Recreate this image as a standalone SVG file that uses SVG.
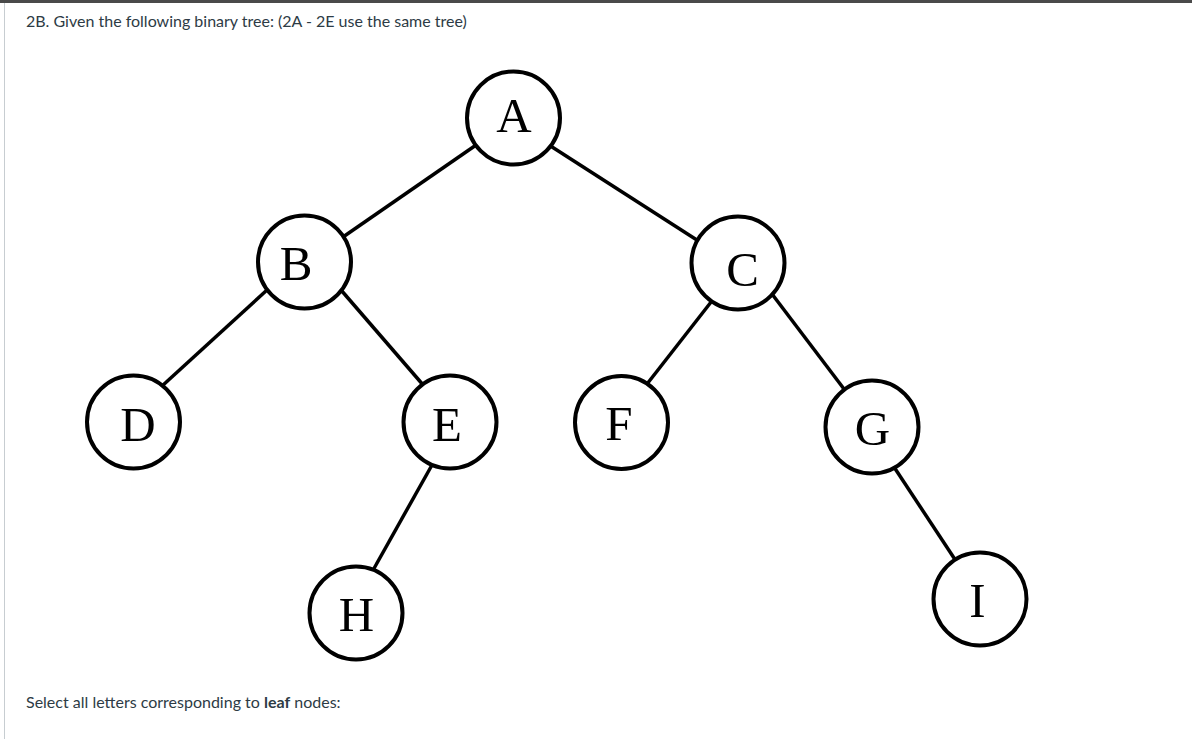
<svg xmlns="http://www.w3.org/2000/svg" width="1192" height="739" viewBox="0 0 1192 739">
  <style>
    .edge { stroke: #000; stroke-width: 3.5; fill: none; }
    .node circle { fill: #fff; stroke: #000; stroke-width: 4; }
    .node text { font-family: "Liberation Serif", "Times New Roman", serif; font-size: 49px; fill: #000; text-anchor: middle; }
    .ui { font-family: Lato, "Liberation Sans", sans-serif; font-size: 16px; fill: #2d3b45; }
  </style>
  <rect x="0" y="0" width="1192" height="739" fill="#fff"/>
  <rect x="0" y="0" width="1192" height="3" fill="#4a4a4a"/>
  <rect x="4" y="3" width="1" height="736" fill="#c7cdd1"/>
  <text class="ui" x="26" y="27">2B. Given the following binary tree: (2A - 2E use the same tree)</text>
  <text class="ui" x="26" y="708">Select all letters corresponding to <tspan font-weight="bold">leaf</tspan> nodes:</text>

  <g id="connectors">
    <line class="edge" x1="479" y1="143" x2="343" y2="237"/>
    <line class="edge" x1="549" y1="145" x2="700" y2="242"/>
    <line class="edge" x1="267" y1="290" x2="162" y2="386"/>
    <line class="edge" x1="341" y1="290" x2="424" y2="386"/>
    <line class="edge" x1="715" y1="297" x2="647" y2="384"/>
    <line class="edge" x1="772" y1="294" x2="844" y2="389"/>
    <line class="edge" x1="432" y1="465" x2="372" y2="572"/>
    <line class="edge" x1="894" y1="467" x2="956" y2="561"/>
  </g>

  <g id="node-A" class="node"><circle cx="513.5" cy="118" r="46.5"/><text x="514" y="131.5">A</text></g>
  <g id="node-B" class="node"><circle cx="304.5" cy="262" r="46.5"/><text x="296" y="280">B</text></g>
  <g id="node-C" class="node"><circle cx="738" cy="263" r="46.5"/><text x="742.5" y="286">C</text></g>
  <g id="node-D" class="node"><circle cx="133.5" cy="422" r="46.5"/><text x="138" y="440.5">D</text></g>
  <g id="node-E" class="node"><circle cx="450" cy="422" r="46.5"/><text x="447" y="440.5">E</text></g>
  <g id="node-F" class="node"><circle cx="621.5" cy="422.5" r="46.5"/><text x="619" y="440">F</text></g>
  <g id="node-G" class="node"><circle cx="872" cy="427" r="46.5"/><text x="872.5" y="445">G</text></g>
  <g id="node-H" class="node"><circle cx="356" cy="613" r="46.5"/><text x="356.5" y="631">H</text></g>
  <g id="node-I" class="node"><circle cx="980" cy="599" r="46.5"/><text x="977.5" y="617">I</text></g>
</svg>
